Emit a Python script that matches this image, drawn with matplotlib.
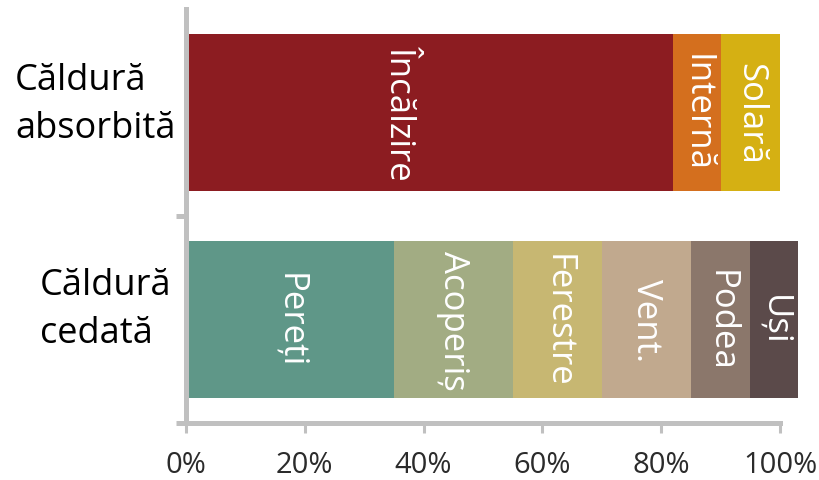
import matplotlib.pyplot as plt
from matplotlib.ticker import PercentFormatter
import matplotlib.transforms as mtransforms

plt.rcParams['font.family'] = ['Open Sans', 'DejaVu Sans']

# data
groups = ['Căldură\ncedată', 'Căldură\nabsorbită']
absorbed_labels = ['Încălzire', 'Internă', 'Solară']
absorbed_values = [82, 8, 10]
absorbed_colors = ['#8c1c21', '#d46f1e', '#d5b013']
lost_labels = ['Pereți', 'Acoperiș', 'Ferestre', 'Vent.', 'Podea', 'Uși']
lost_values = [35, 20, 15, 15, 10, 8]
lost_colors = ['#5f9788', '#a2ac83', '#c7b772', '#c1a98e', '#8b776b', '#5b4a4a']
x_ticks = [0, 20, 40, 60, 80, 100]

fig = plt.figure(figsize=(8.19, 4.81), dpi=100)
ax = fig.add_axes([186 / 819, 1 - 424 / 481, (780 - 186) / 819, 414 / 481])

bar_h = 0.76


def stack(y, labels, values, colors, shift=None):
    left = 0
    for i, (lab, val, col) in enumerate(zip(labels, values, colors)):
        ax.barh(y, val, left=left, height=bar_h, color=col, clip_on=False)
        xm = left + val / 2
        if shift and i in shift:
            xm += shift[i]
        ax.text(xm, y, lab, rotation=-90, ha='center', va='center',
                color='white', fontsize=25)
        left += val


stack(1, absorbed_labels, absorbed_values, absorbed_colors, shift={0: -5})
stack(0, lost_labels, lost_values, lost_colors)

ax.set_xlim(0, 100)
ax.set_ylim(-0.5, 1.5)
ax.set_xticks(x_ticks)
ax.xaxis.set_major_formatter(PercentFormatter(decimals=0))
ax.set_yticks([-0.5, 0.5])
ax.set_yticklabels([])

for s in ['top', 'right']:
    ax.spines[s].set_visible(False)
for s in ['left', 'bottom']:
    ax.spines[s].set_color('#c0c0c0')
    ax.spines[s].set_linewidth(3.6)
ax.tick_params(axis='x', colors='#c0c0c0', length=7.5, width=2.2, labelsize=21,
               labelcolor='#2b2b2b', pad=12)
ax.tick_params(axis='y', colors='#c0c0c0', length=7.5, width=3.6)

# category labels on the left
trans = mtransforms.blended_transform_factory(fig.transFigure, ax.transData)
ax.text(15 / 819, 1.04, groups[1], transform=trans, ha='left', va='center',
        fontsize=26, color='black', linespacing=1.45)
ax.text(40 / 819, 0.05, groups[0], transform=trans, ha='left', va='center',
        fontsize=26, color='black', linespacing=1.45)

fig.savefig('out.png', dpi=100)
